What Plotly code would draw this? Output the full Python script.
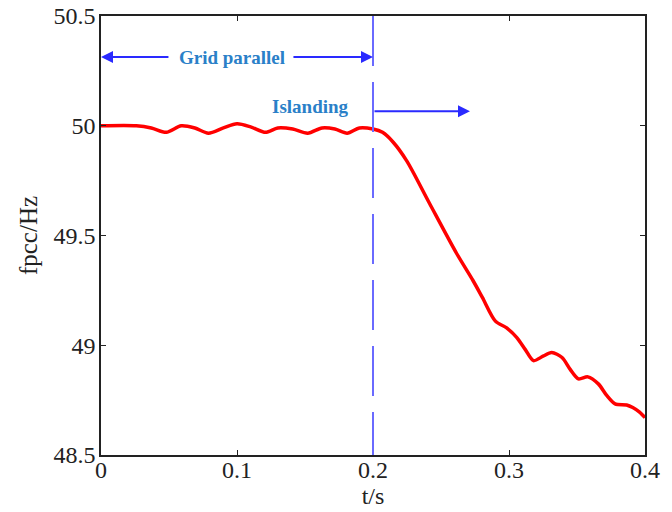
import plotly.graph_objects as go

# PCC frequency before and after the islanding event
t_s = [0, 0.026, 0.037, 0.048, 0.059, 0.069, 0.079, 0.09, 0.1, 0.11, 0.121, 0.130,
       0.141, 0.152, 0.1625, 0.172, 0.181, 0.19, 0.2, 0.207, 0.2147, 0.2248, 0.2415,
       0.2615, 0.2735, 0.2804, 0.29, 0.298, 0.3056, 0.312, 0.318, 0.325, 0.3314, 0.339,
       0.345, 0.351, 0.358, 0.3657, 0.372, 0.378, 0.3865, 0.391, 0.396, 0.4]
f_hz = [50.0, 50.0, 49.99, 49.97, 50.0, 49.99, 49.966, 49.99, 50.009, 49.995, 49.97, 49.99,
        49.985, 49.966, 49.99, 49.985, 49.966, 49.99, 49.985, 49.97, 49.926, 49.84, 49.647,
        49.418, 49.295, 49.218, 49.11, 49.08, 49.036, 48.98, 48.93, 48.95, 48.967, 48.944,
        48.89, 48.847, 48.856, 48.824, 48.77, 48.733, 48.728, 48.716, 48.695, 48.67]

x_ticks = [0, 0.1, 0.2, 0.3, 0.4]
x_labels = ["0", "0.1", "0.2", "0.3", "0.4"]
y_ticks = [48.5, 49, 49.5, 50, 50.5]
y_labels = ["48.5", "49", "49.5", "50", "50.5"]

t_island = 0.2
grid_arrow_y = 50.313
island_arrow_y = 50.066
island_arrow_end = 0.2713

serif = "Liberation Serif, Times New Roman, serif"
arrow_col = "#2a2aff"
text_col = "#2a80c8"
ink = "#222222"

fig = go.Figure()
fig.add_trace(go.Scatter(x=t_s, y=f_hz, mode="lines",
                         line=dict(color="#ff0000", width=3.5, shape="spline", smoothing=0.8),
                         showlegend=False))

# islanding instant
fig.add_shape(type="line", xref="x", yref="paper", x0=t_island, x1=t_island, y0=1, y1=0,
              line=dict(color="#6a6aff", width=2, dash="50px,16px"))

# "Grid parallel" double arrow (two halves around the label)
fig.add_annotation(x=0, y=grid_arrow_y, ax=0.0507, ay=grid_arrow_y, xref="x", yref="y",
                   axref="x", ayref="y", text="", showarrow=True, arrowhead=2,
                   arrowsize=1.2, arrowwidth=2, arrowcolor=arrow_col)
fig.add_annotation(x=t_island, y=grid_arrow_y, ax=0.1404, ay=grid_arrow_y, xref="x", yref="y",
                   axref="x", ayref="y", text="", showarrow=True, arrowhead=2,
                   arrowsize=1.2, arrowwidth=2, arrowcolor=arrow_col)
fig.add_annotation(x=0.0963, y=grid_arrow_y, text="<b>Grid parallel</b>", showarrow=False,
                   font=dict(family=serif, size=19, color=text_col))

# "Islanding" arrow
fig.add_annotation(x=island_arrow_end, y=island_arrow_y, ax=t_island, ay=island_arrow_y,
                   xref="x", yref="y", axref="x", ayref="y", text="", showarrow=True,
                   arrowhead=2, arrowsize=1.2, arrowwidth=2, arrowcolor=arrow_col)
fig.add_annotation(x=0.154, y=50.089, text="<b>Islanding</b>", showarrow=False,
                   font=dict(family=serif, size=19, color=text_col))

axis_common = dict(showgrid=False, zeroline=False, showline=True, linecolor=ink,
                   linewidth=1.5, mirror="ticks", ticks="inside", ticklen=5,
                   tickwidth=1.2, tickcolor=ink, automargin=False,
                   tickfont=dict(family=serif, size=24, color=ink))

fig.update_xaxes(range=[0, 0.4], tickvals=x_ticks, ticktext=x_labels,
                 ticklabelstandoff=-8,
                 title=dict(text="t/s", font=dict(family=serif, size=24, color=ink),
                            standoff=0),
                 **axis_common)
fig.update_yaxes(range=[48.5, 50.5], tickvals=y_ticks, ticktext=y_labels,
                 ticklabelstandoff=-1,
                 title=dict(text="fpcc/Hz", font=dict(family=serif, size=25, color=ink),
                            standoff=9),
                 **axis_common)

fig.update_layout(width=672, height=512, margin=dict(l=101, r=27, t=16, b=57),
                  plot_bgcolor="white", paper_bgcolor="white")

fig.write_html("out.html")
